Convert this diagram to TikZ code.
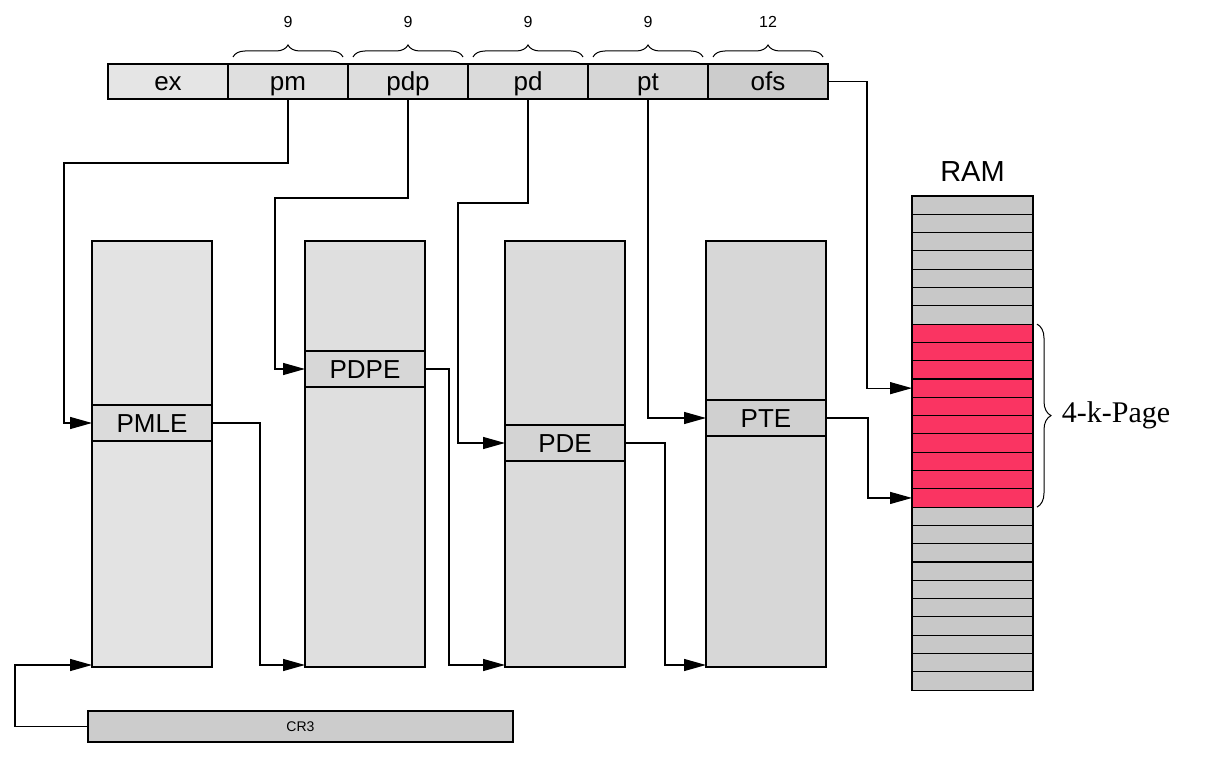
\documentclass[tikz,border=0pt]{standalone}
\usepackage{fontspec}
\setmainfont{Liberation Serif}
\setsansfont{Liberation Sans}
\usetikzlibrary{arrows.meta,positioning,decorations.pathreplacing,calc}

\definecolor{pagered}{RGB}{250,52,98}
\definecolor{ramgray}{RGB}{200,200,200}

\tikzset{
  field/.style={draw,line width=1.2pt,minimum width=120pt,minimum height=35pt,
    inner sep=0pt,outer sep=0pt,text height=18pt,text depth=0pt,
    font=\sffamily\fontsize{26}{26}\selectfont},
  tab/.style={draw,line width=1.2pt,minimum width=120pt,minimum height=426pt,
    inner sep=0pt,outer sep=0pt},
  entry/.style={field,minimum height=36pt},
  ramrow/.style={draw,line width=1.1pt,minimum width=121pt,minimum height=18.3pt,
    inner sep=0pt,outer sep=0pt},
  link/.style={line width=1.3pt,-{Triangle[length=22pt,width=12pt]}},
  brc/.style={decorate,decoration={brace,amplitude=12pt},line width=1pt}
}

\begin{document}
\begin{tikzpicture}[x=1pt,y=-1pt]
\useasboundingbox (0,0) rectangle (1216,762);

% virtual address
\node[field,fill=gray!20] (ex) at (168,81.5) {ex};
\node[field,fill=gray!25,right=0pt of ex] (pm) {pm};
\node[field,fill=gray!27,right=0pt of pm] (pdp) {pdp};
\node[field,fill=gray!29,right=0pt of pdp] (pd) {pd};
\node[field,fill=gray!32,right=0pt of pd] (pt) {pt};
\node[field,fill=gray!40,right=0pt of pt] (ofs) {ofs};

\foreach \f/\n in {pm/9,pdp/9,pd/9,pt/9,ofs/12}
  \draw[brc] ($(\f.north west)+(5,-7)$) -- ($(\f.north east)+(-5,-7)$)
    node[midway,above=26pt,font=\sffamily\fontsize{16}{16}\selectfont] {\n};

% tables
\node[tab,fill=gray!22] (pmltab) at (152,454) {};
\node[tab,fill=gray!25] (pdptab) at (365,454) {};
\node[tab,fill=gray!28] (pdtab) at (565,454) {};
\node[tab,fill=gray!31] (pttab) at (766,454) {};

\node[entry,fill=gray!28] (pmle) at (152,423) {PMLE};
\node[entry,fill=gray!31] (pdpe) at (365,369) {PDPE};
\node[entry,fill=gray!34] (pde) at (565,443) {PDE};
\node[entry,fill=gray!37] (pte) at (766,418) {PTE};

\node[field,fill=gray!40,minimum width=425pt,minimum height=31pt,
  text height=10pt,font=\sffamily\fontsize{14}{14}\selectfont] (cr3) at (300.5,726.5) {CR3};

% RAM
\foreach \i in {0,...,26}{
  \pgfmathtruncatemacro\pg{(\i>6)&&(\i<17)}
  \ifnum\pg=1 \def\rc{pagered}\else\def\rc{ramgray}\fi
  \node[ramrow,fill=\rc] (ram\i) at (972.5,{205.15+18.3*\i}) {};
}
\node[font=\sffamily\fontsize{29}{29}\selectfont] (ramlbl) at (972.5,172) {RAM};
\draw[brc,decoration={amplitude=14pt}] ($(ram7.north east)+(4,0)$) -- ($(ram16.south east)+(4,0)$)
  node[midway,right=21pt,font=\fontsize{30}{30}\selectfont] (pagelbl) {4-k-Page};

% walk
\draw[link] (pm.south) |- (64,163) |- (pmle.west);
\draw[link] (pdp.south) |- (275,198) |- (pdpe.west);
\draw[link] (pd.south) |- (458,203) |- (pde.west);
\draw[link] (pt.south) |- (pte.west);
\draw[link] (ofs.east) -- ++(39,0) |- (ram10.west);
\draw[link] (pte.east) -- ++(42,0) |- (ram16.west);

\draw[link] (cr3.west) -- ++(-73,0) |- ($(pmltab.south west)+(0,-2)$);
\draw[link] (pmle.east) -- ++(48,0) |- ($(pdptab.south west)+(0,-2)$);
\draw[link] (pdpe.east) -- ++(24,0) |- ($(pdtab.south west)+(0,-2)$);
\draw[link] (pde.east) -- ++(40,0) |- ($(pttab.south west)+(0,-2)$);
\end{tikzpicture}
\end{document}
